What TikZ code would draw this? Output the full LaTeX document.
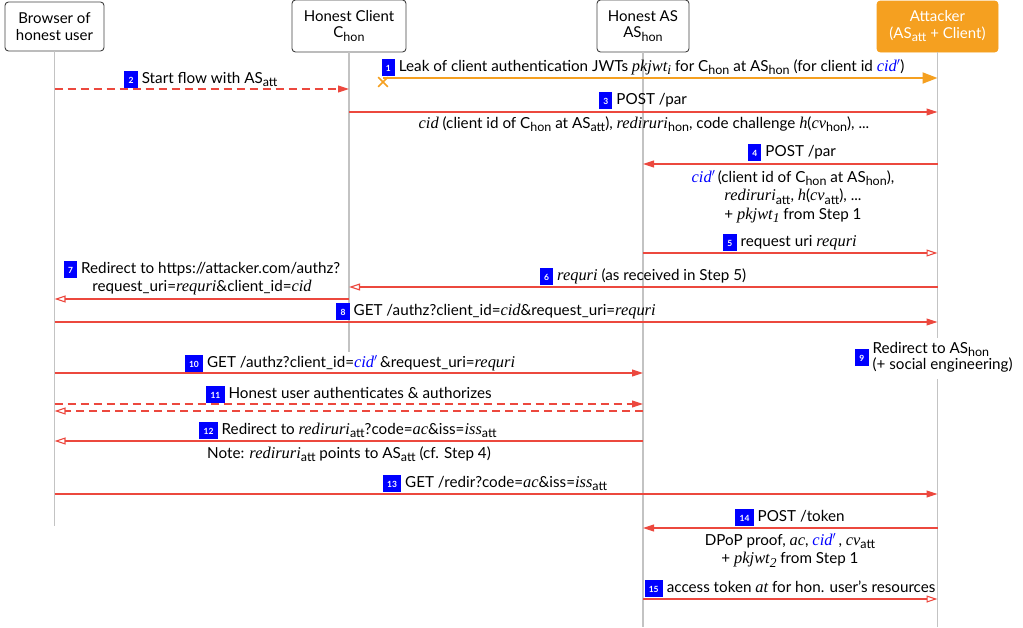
\documentclass[tikz,border=0pt]{standalone}
\usepackage{fontspec}
\setmainfont{Lato}
\newfontfamily\idfont{Liberation Serif}[Scale=1.08]
\usetikzlibrary{arrows.meta,shapes.misc}
\definecolor{msgred}{RGB}{236,72,62}
\definecolor{attorange}{RGB}{245,160,32}
\definecolor{stepblue}{RGB}{0,0,255}
\definecolor{lifegray}{RGB}{195,195,195}
% subscripts set in the text font
\newcommand\lo[1]{\raisebox{-3.5pt}{\fontsize{12.5}{12.5}\selectfont #1}}
% italic identifiers
\newcommand\id[1]{{\idfont\itshape #1}}
\newcommand\cidp{\textcolor{blue}{\id{cid}$'$}}
% blue step number badge
\newcommand\stepno[1]{{\setlength\fboxsep{0pt}\colorbox{stepblue}{\rule[-4.5pt]{0pt}{17pt}\hspace{4.2pt}{\fontsize{8.5}{8.5}\selectfont\bfseries\color{white}#1}\hspace{4.2pt}}}\hspace{4pt}}
% centred lines whose baseline is that of the first line
\newcommand\lines[1]{\begin{tabular}[t]{@{}c@{}}#1\end{tabular}}
\begin{document}
\begin{tikzpicture}[x=1pt,y=-1pt,
  font=\fontsize{15.2}{18.5}\selectfont,
  actor/.style={draw=black!75,line width=0.9pt,rounded corners=3.5pt,align=center,inner sep=0pt,font=\fontsize{15}{16.5}\selectfont},
  life/.style={draw=lifegray,line width=1.2pt},
  msg/.style={draw=msgred,line width=1.1pt,-{Triangle[length=11pt,width=7pt]}},
  omsg/.style={draw=msgred,line width=1.1pt,-{Triangle[open,length=11pt,width=7pt,fill=white]}},
  dmsg/.style={dash pattern=on 8pt off 5pt},
  lbl/.style={anchor=base,inner sep=0pt},
]
\useasboundingbox (0,0) rectangle (1023,627);

% participants
\node[actor,minimum width=99pt,minimum height=49pt] (hB) at (54.5,26.5) {Browser of\\honest user};
\node[actor,minimum width=114pt,minimum height=52pt] (hC) at (349,26) {Honest Client\\C\lo{hon}};
\node[actor,minimum width=92pt,minimum height=52pt] (hA) at (643,26) {Honest AS\\AS\lo{hon}};
\node[actor,draw=attorange,fill=attorange,text=white,minimum width=121pt,minimum height=51pt] (hT) at (937.5,26.5) {Attacker\\(AS\lo{att} + Client)};

% lifelines
\coordinate (eB) at (0,526);
\coordinate (eC) at (0,352);
\coordinate (eA) at (0,627);
\draw[life] (hB.south) -- (hB |- eB);
\draw[life] (hC.south) -- (hC |- eC);
\draw[life] (hA.south) -- (hA |- eA);
\draw[life] (hT.south) -- (hT |- eA);

% message rows
\coordinate (y1) at (383,78);
\coordinate (y2) at (0,89);
\coordinate (y3) at (0,112);
\coordinate (y4) at (0,164);
\coordinate (y5) at (0,253);
\coordinate (y6) at (0,287);
\coordinate (y7) at (0,299);
\coordinate (y8) at (0,322);
\coordinate (y10) at (0,373);
\coordinate (y11) at (0,404);
\coordinate (y11b) at (0,411);
\coordinate (y12) at (0,441);
\coordinate (y13) at (0,494);
\coordinate (y14) at (0,528);
\coordinate (y15) at (0,599);

% 1: leaked JWTs
\node[cross out,draw=attorange,line width=1.6pt,minimum size=8pt,inner sep=0pt] (x1) at (383,82) {};
\draw[attorange,line width=2pt,-{Triangle[length=15pt,width=11pt]}] (y1) -- (hT |- y1);
\node[lbl] (l1) at (643,71) {\stepno{1}Leak of client authentication JWTs \id{pkjwt}\lo{\id{i}} for C\lo{hon} at AS\lo{hon} (for client id \cidp)};

% 2
\draw[msg,dmsg] (hB |- y2) -- (hC |- y2);
\node[lbl] (l2) at (201,83) {\stepno{2}Start flow with AS\lo{att}};

% 3
\draw[msg] (hC |- y3) -- (hT |- y3);
\node[lbl] (l3) at (643,104) {\stepno{3}POST /par};
\node[lbl] (l3b) at (644,128) {\id{cid} (client id of C\lo{hon} at AS\lo{att}), \id{rediruri}\lo{hon}, code challenge \id{h}(\id{cv}\lo{hon}), ...};

% 4
\draw[msg] (hT |- y4) -- (hA |- y4);
\node[lbl] (l4) at (792,156) {\stepno{4}POST /par};
\node[lbl] (l4b) at (793,182) {\lines{\cidp\,(client id of C\lo{hon} at AS\lo{hon}),\\\id{rediruri}\lo{att}, \id{h}(\id{cv}\lo{att}), ...\\+ \id{pkjwt}\lo{\id{1}} from Step 1}};

% 5
\draw[omsg] (hA |- y5) -- (hT |- y5);
\node[lbl] (l5) at (790,246) {\stepno{5}request uri \id{requri}};

% 6
\draw[omsg] (hT |- y6) -- (hC |- y6);
\node[lbl] (l6) at (643,280) {\stepno{6}\id{requri} (as received in Step 5)};

% 7
\draw[omsg] (hC |- y7) -- (hB |- y7);
\node[lbl] (l7) at (202,273) {\lines{\stepno{7}Redirect to https://attacker.com/authz?\\request\_uri=\id{requri}\&client\_id=\id{cid}}};

% 8
\draw[msg] (hB |- y8) -- (hT |- y8);
\node[lbl] (l8) at (496,315) {\stepno{8}GET /authz?client\_id=\id{cid}\&request\_uri=\id{requri}};

% 9: note on the attacker lifeline
\node[fill=white,inner xsep=1pt,inner ysep=3pt,anchor=west] (n9) at (854,358) {\stepno{9}\begin{tabular}{@{}l@{}}Redirect to AS\lo{hon}\\[-2pt](+ social engineering)\end{tabular}};

% 10
\draw[msg] (hB |- y10) -- (hA |- y10);
\node[lbl] (l10) at (350,367) {\stepno{10}GET /authz?client\_id=\cidp\,\&request\_uri=\id{requri}};

% 11
\draw[msg,dmsg] (hB |- y11) -- (hA |- y11);
\draw[omsg,dmsg] (hA |- y11b) -- (hB |- y11b);
\node[lbl] (l11) at (349,398) {\stepno{11}Honest user authenticates \& authorizes};

% 12
\draw[omsg] (hA |- y12) -- (hB |- y12);
\node[lbl] (l12) at (348,434) {\stepno{12}Redirect to \id{rediruri}\lo{att}?code=\id{ac}\&iss=\id{iss}\lo{att}};
\node[lbl] (l12b) at (349,458) {Note: \id{rediruri}\lo{att} points to AS\lo{att} (cf. Step 4)};

% 13
\draw[msg] (hB |- y13) -- (hT |- y13);
\node[lbl] (l13) at (495,487) {\stepno{13}GET /redir?code=\id{ac}\&iss=\id{iss}\lo{att}};

% 14
\draw[msg] (hT |- y14) -- (hA |- y14);
\node[lbl] (l14) at (790,521) {\stepno{14}POST /token};
\node[lbl] (l14b) at (790,545) {\lines{DPoP proof, \id{ac}, \cidp\,, \id{cv}\lo{att}\\+ \id{pkjwt}\lo{\id{2}} from Step 1}};

% 15
\draw[omsg] (hA |- y15) -- (hT |- y15);
\node[lbl] (l15) at (790,592) {\stepno{15}access token \id{at} for hon. user's resources};
\end{tikzpicture}
\end{document}
